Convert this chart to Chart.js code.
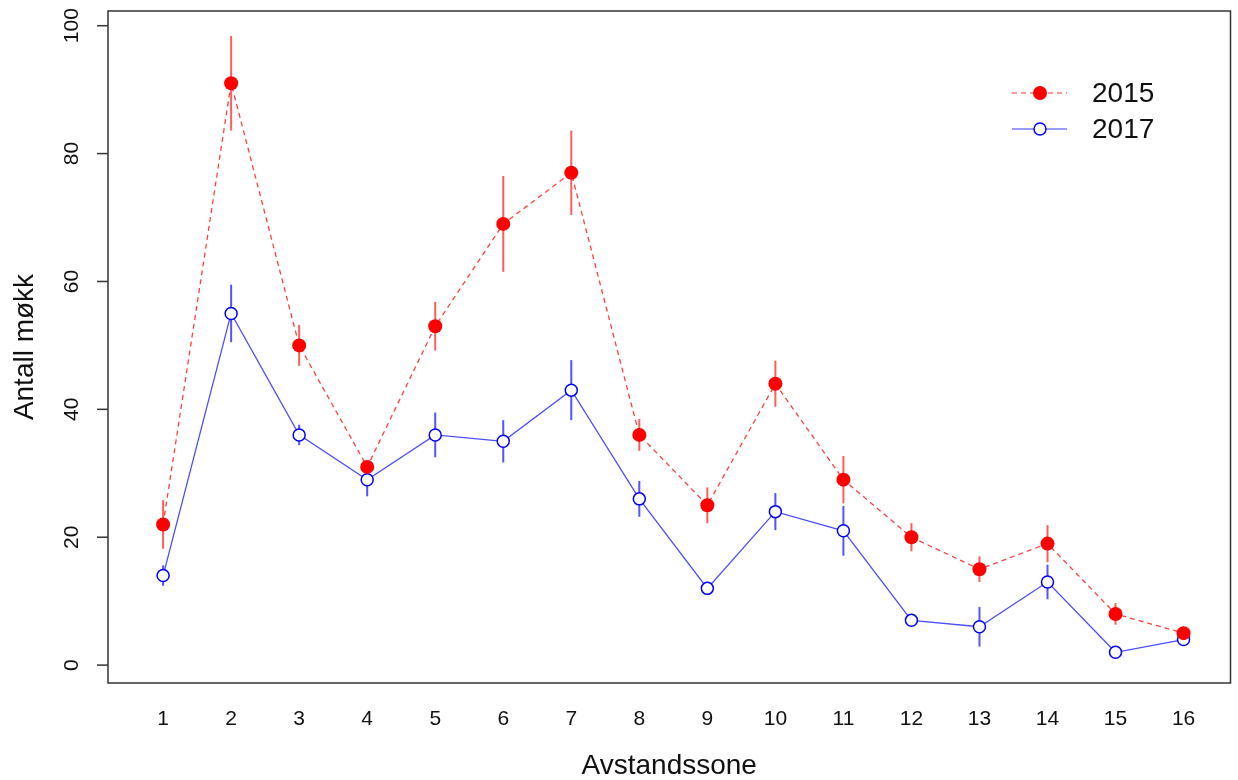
<!DOCTYPE html>
<html>
<head>
<meta charset="utf-8">
<script src="https://cdn.jsdelivr.net/npm/chart.js@4.4.1/dist/chart.umd.min.js"></script>
<style>
html,body{margin:0;padding:0;background:#fff;}
#wrap{width:1238px;height:780px;position:relative;}
</style>
</head>
<body>
<div id="wrap"><canvas id="c" width="1238" height="780"></canvas></div>
<script>
// ---- data ----
const zones = [1,2,3,4,5,6,7,8,9,10,11,12,13,14,15,16];
const mean2015 = [22,91,50,31,53,69,77,36,25,44,29,20,15,19,8,5];
const err2015  = [3.8,7.4,3.2,0.8,3.8,7.5,6.6,2.5,2.8,3.6,3.7,2.2,2.0,2.9,1.7,0.8];
const mean2017 = [14,55,36,29,36,35,43,26,12,24,21,7,6,13,2,4];
const err2017  = [1.6,4.5,1.6,2.6,3.5,3.3,4.7,2.8,0.8,2.9,3.9,0.8,3.1,2.7,0.8,0.8];
const yTicks = [0,20,40,60,80,100];
const seriesNames = ['2015','2017'];
const xTitle = 'Avstandssone';
const yTitle = 'Antall møkk';

const FONT = '"Liberation Sans", Arial, sans-serif';
const RED = '#ff0000';
const BLUE = '#0000ff';

const errs = [err2015, err2017];
const errColors = ['rgba(255,30,30,0.72)','rgba(40,40,255,0.8)'];

const custom = {
  id:'custom',
  beforeDatasetsDraw(chart){
    const ctx = chart.ctx, x = chart.scales.x, y = chart.scales.y;
    ctx.save();
    chart.data.datasets.forEach((ds, i) => {
      ctx.strokeStyle = errColors[i];
      ctx.lineWidth = 2;
      ds.data.forEach((p, j) => {
        const px = x.getPixelForValue(p.x);
        ctx.beginPath();
        ctx.moveTo(px, y.getPixelForValue(p.y + errs[i][j]));
        ctx.lineTo(px, y.getPixelForValue(p.y - errs[i][j]));
        ctx.stroke();
      });
    });
    ctx.restore();
  },
  afterDraw(chart){
    const ctx = chart.ctx, a = chart.chartArea, y = chart.scales.y;
    ctx.save();
    // box
    ctx.strokeStyle = '#333';
    ctx.lineWidth = 1.5;
    ctx.strokeRect(a.left, a.top, a.right - a.left, a.bottom - a.top);
    // y ticks
    ctx.fillStyle = '#111';
    ctx.font = '21px ' + FONT;
    ctx.textAlign = 'center';
    ctx.textBaseline = 'middle';
    yTicks.forEach(t => {
      const py = y.getPixelForValue(t);
      ctx.beginPath();
      ctx.moveTo(a.left - 11, py);
      ctx.lineTo(a.left, py);
      ctx.stroke();
      ctx.save();
      ctx.translate(72, py);
      ctx.rotate(-Math.PI/2);
      ctx.fillText(String(t), 0, 0);
      ctx.restore();
    });
    // titles
    ctx.font = '28px ' + FONT;
    ctx.fillText(xTitle, (a.left + a.right)/2, 766);
    ctx.save();
    ctx.translate(25, (a.top + a.bottom)/2);
    ctx.rotate(-Math.PI/2);
    ctx.fillText(yTitle, 0, 0);
    ctx.restore();
    // legend
    const lx0 = 1012, lx1 = 1067, lmx = 1040, ly = [93, 129];
    // 2015
    ctx.strokeStyle = 'rgba(255,0,0,0.8)';
    ctx.lineWidth = 1.2;
    ctx.setLineDash([5,4]);
    ctx.beginPath(); ctx.moveTo(lx0, ly[0]); ctx.lineTo(lx1, ly[0]); ctx.stroke();
    ctx.setLineDash([]);
    ctx.fillStyle = RED;
    ctx.beginPath(); ctx.arc(lmx, ly[0], 7, 0, Math.PI*2); ctx.fill();
    // 2017
    ctx.strokeStyle = 'rgba(0,0,255,0.8)';
    ctx.beginPath(); ctx.moveTo(lx0, ly[1]); ctx.lineTo(lx1, ly[1]); ctx.stroke();
    ctx.fillStyle = '#fff';
    ctx.strokeStyle = BLUE;
    ctx.lineWidth = 1.5;
    ctx.beginPath(); ctx.arc(lmx, ly[1], 6, 0, Math.PI*2); ctx.fill(); ctx.stroke();
    ctx.fillStyle = '#111';
    ctx.textAlign = 'left';
    ctx.font = '28px ' + FONT;
    ctx.fillText(seriesNames[0], 1092, ly[0] + 1);
    ctx.fillText(seriesNames[1], 1092, ly[1] + 1);
    ctx.restore();
  }
};

new Chart(document.getElementById('c'), {
  type:'line',
  data:{
    datasets:[
      {
        label: seriesNames[0],
        data: zones.map((z,i)=>({x:z, y:mean2015[i]})),
        borderColor:'rgba(255,0,0,0.75)',
        borderWidth:1.3,
        borderDash:[5,4],
        pointRadius:7,
        pointBackgroundColor:RED,
        pointBorderColor:RED,
        pointBorderWidth:0,
        tension:0
      },
      {
        label: seriesNames[1],
        data: zones.map((z,i)=>({x:z, y:mean2017[i]})),
        borderColor:'rgba(0,0,255,0.7)',
        borderWidth:1.3,
        pointRadius:6,
        pointBackgroundColor:'#fff',
        pointBorderColor:BLUE,
        pointBorderWidth:1.5,
        tension:0
      }
    ]
  },
  options:{
    responsive:false,
    animation:false,
    devicePixelRatio:1,
    layout:{padding:{left:108, top:11, right:6, bottom:0}},
    plugins:{legend:{display:false}, tooltip:{enabled:false}},
    scales:{
      x:{
        type:'linear',
        min:0.19, max:16.69,
        afterBuildTicks(s){ s.ticks = zones.map(v=>({value:v})); },
        afterFit(s){ s.height = 97; },
        grid:{display:false, drawTicks:false},
        border:{display:false},
        ticks:{
          autoSkip:false, maxRotation:0, minRotation:0, padding:24,
          color:'#111', font:{family:FONT, size:21},
          callback:(v)=>String(v)
        }
      },
      y:{
        type:'linear',
        min:-2.8, max:102.3,
        display:false
      }
    }
  },
  plugins:[custom]
});
</script>
</body>
</html>
